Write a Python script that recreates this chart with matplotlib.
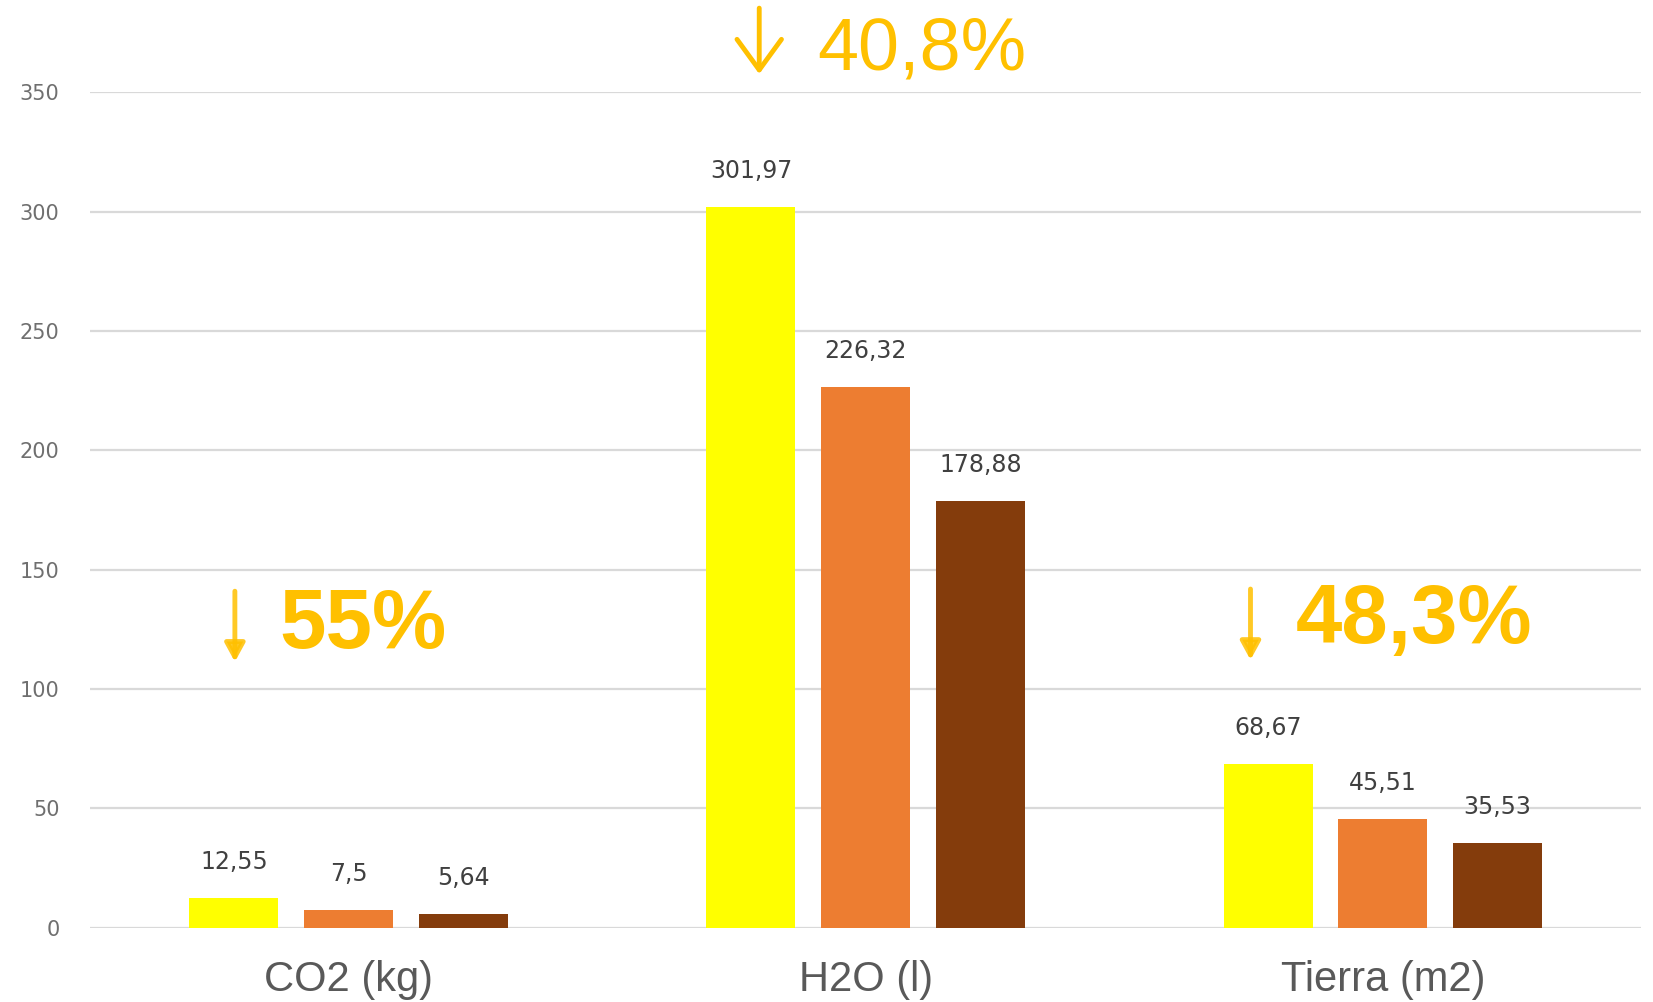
import numpy as np
import matplotlib.pyplot as plt

# Datos
categorias = ['CO2 (kg)', 'H2O (l)', 'Tierra (m2)']
serie_1 = [12.55, 301.97, 68.67]
serie_2 = [7.5, 226.32, 45.51]
serie_3 = [5.64, 178.88, 35.53]
reducciones = ['55%', '40,8%', '48,3%']

colores = ['#FFFF00', '#ED7D31', '#843C0C']
naranja_txt = '#FFC000'


def formato(v):
    s = ('%.2f' % v).rstrip('0').rstrip('.')
    return s.replace('.', ',')


fig = plt.figure(figsize=(16.53, 10.02), dpi=100)
ax = fig.add_axes([0.0545, 0.074, 0.9385, 0.834])

x = np.arange(len(categorias))
ancho = 0.172
desplaz = 0.222

for i, (serie, color) in enumerate(zip([serie_1, serie_2, serie_3], colores)):
    barras = ax.bar(x + (i - 1) * desplaz, serie, width=ancho, color=color, zorder=3)
    for b, v in zip(barras, serie):
        ax.annotate(formato(v), (b.get_x() + b.get_width() / 2, v),
                    xytext=(0, 21), textcoords='offset points',
                    ha='center', va='baseline', fontsize=17, color='#404040',
                    family='DejaVu Sans')

ax.set_xlim(-0.5, 2.5)
ax.set_ylim(0, 350)
ax.set_yticks(np.arange(0, 351, 50))
ax.yaxis.grid(True, color='#D9D9D9', linewidth=1.6, zorder=0)
ax.set_axisbelow(True)
for s in ax.spines.values():
    s.set_visible(False)
ax.tick_params(axis='y', length=0, pad=22, labelsize=15, labelcolor='#6F6F6F')
ax.tick_params(axis='x', length=0, pad=23)
ax.set_xticks(x)
ax.set_xticklabels(categorias, fontsize=30, color='#595959',
                   family='Liberation Sans')
for t in ax.get_yticklabels():
    t.set_verticalalignment('center_baseline')

# Anotaciones de reducción
flecha_chica = dict(arrowstyle='-|>,head_length=1.1,head_width=0.6',
                    color=naranja_txt, lw=3.5, alpha=0.85, shrinkA=0, shrinkB=0)
# CO2
ax.text(-0.134, 117.2, reducciones[0], fontsize=60, fontweight='bold',
        color=naranja_txt, family='Liberation Sans', va='baseline', ha='left')
ax.annotate('', xy=(-0.22, 111.4), xytext=(-0.22, 141.0), arrowprops=flecha_chica)
# H2O
ax.text(0.906, 359.6, reducciones[1], fontsize=53, color=naranja_txt,
        family='Liberation Sans', va='baseline', ha='left', clip_on=False)
ax.annotate('', xy=(0.794, 357.6), xytext=(0.794, 385.2),
            arrowprops=dict(arrowstyle='->,head_length=2.2,head_width=1.6',
                            color=naranja_txt, lw=3.5, shrinkA=0, shrinkB=0),
            annotation_clip=False)
# Tierra
ax.text(1.831, 119.3, reducciones[2], fontsize=60, fontweight='bold',
        color=naranja_txt, family='Liberation Sans', va='baseline', ha='left')
ax.annotate('', xy=(1.744, 112.2), xytext=(1.744, 141.9), arrowprops=flecha_chica)

fig.savefig('out.png', dpi=100)
